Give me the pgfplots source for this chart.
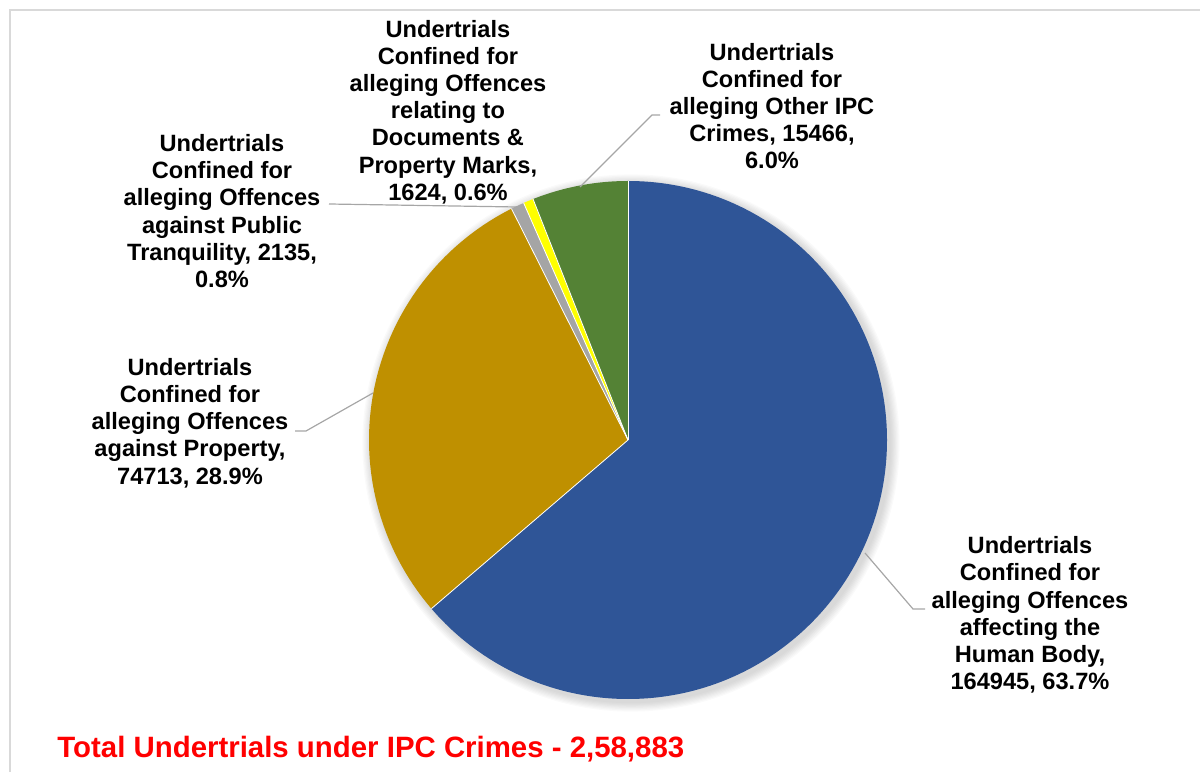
\documentclass[border=0pt]{standalone}
\usepackage{pgfplots}
\pgfplotsset{compat=1.18}
\usepackage{pgfplotstable}
\usepackage{fontspec}
\setmainfont{Liberation Sans}
\definecolor{cBlue}{HTML}{2F5597}
\definecolor{cGold}{HTML}{BF9000}
\definecolor{cGray}{HTML}{A5A5A5}
\definecolor{cYellow}{HTML}{FFFF00}
\definecolor{cGreen}{HTML}{548235}
\definecolor{cLead}{HTML}{A6A6A6}
\definecolor{cFrame}{HTML}{D9D9D9}

\pgfplotstableread{
value
164945
74713
2135
1624
15466
}\piedata
\pgfplotstablegetelem{0}{value}\of\piedata \edef\vA{\pgfplotsretval}
\pgfplotstablegetelem{1}{value}\of\piedata \edef\vB{\pgfplotsretval}
\pgfplotstablegetelem{2}{value}\of\piedata \edef\vC{\pgfplotsretval}
\pgfplotstablegetelem{3}{value}\of\piedata \edef\vD{\pgfplotsretval}
\pgfplotstablegetelem{4}{value}\of\piedata \edef\vE{\pgfplotsretval}
\edef\tot{\fpeval{\vA+\vB+\vC+\vD+\vE}}
\edef\tA{90}
\edef\tB{\fpeval{round(\tA-360*\vA/\tot,3)}}
\edef\tC{\fpeval{round(\tB-360*\vB/\tot,3)}}
\edef\tD{\fpeval{round(\tC-360*\vC/\tot,3)}}
\edef\tE{\fpeval{round(\tD-360*\vD/\tot,3)}}
\edef\tF{\fpeval{round(\tE-360*\vE/\tot,3)}}

\newcommand\lab{\bfseries\fontsize{11.8}{13.6}\selectfont}

\begin{document}
\begin{tikzpicture}
\begin{axis}[
  width=600pt, height=386pt, scale only axis,
  xmin=0, xmax=1200, ymin=0, ymax=772,
  hide axis, clip=false]
% frame
\draw[cFrame, line width=1pt] (axis cs:9.5,0) -- (axis cs:9.5,762) -- (axis cs:1200,762);
% soft shadow
\fill[black, opacity=0.018] (axis cs:631,329) circle[radius=134.3pt];
\fill[black, opacity=0.018] (axis cs:631,329) circle[radius=133.7pt];
\fill[black, opacity=0.018] (axis cs:631,329) circle[radius=133.1pt];
\fill[black, opacity=0.018] (axis cs:631,329) circle[radius=132.5pt];
\fill[black, opacity=0.018] (axis cs:631,329) circle[radius=131.9pt];
\fill[black, opacity=0.018] (axis cs:631,329) circle[radius=131.3pt];
\fill[black, opacity=0.018] (axis cs:631,329) circle[radius=130.7pt];
\fill[black, opacity=0.018] (axis cs:631,329) circle[radius=130.1pt];
% slices
\fill[cBlue]   (axis cs:628,332) -- ++(\tA:129.5pt) arc[start angle=\tA, end angle=\tB, radius=129.5pt] -- cycle;
\fill[cGold]   (axis cs:628,332) -- ++(\tB:129.5pt) arc[start angle=\tB, end angle=\tC, radius=129.5pt] -- cycle;
\fill[cGray]   (axis cs:628,332) -- ++(\tC:129.5pt) arc[start angle=\tC, end angle=\tD, radius=129.5pt] -- cycle;
\fill[cYellow] (axis cs:628,332) -- ++(\tD:129.5pt) arc[start angle=\tD, end angle=\tE, radius=129.5pt] -- cycle;
\fill[cGreen]  (axis cs:628,332) -- ++(\tE:129.5pt) arc[start angle=\tE, end angle=\tF, radius=129.5pt] -- cycle;
\draw[white, line width=0.4pt] (axis cs:628,332) -- ++(\tA:129.5pt);
\draw[white, line width=0.4pt] (axis cs:628,332) -- ++(\tB:129.5pt);
\draw[white, line width=0.4pt] (axis cs:628,332) -- ++(\tC:129.5pt);
\draw[white, line width=0.4pt] (axis cs:628,332) -- ++(\tD:129.5pt);
\draw[white, line width=0.4pt] (axis cs:628,332) -- ++(\tE:129.5pt);
% leader lines
\draw[cLead, line width=0.6pt] (axis cs:865,219) -- (axis cs:913,163) -- (axis cs:925,163);
\draw[cLead, line width=0.6pt] (axis cs:373,379) -- (axis cs:306,341) -- (axis cs:295,341);
\draw[cLead, line width=0.6pt] (axis cs:517,565) -- (axis cs:329,568);
\draw[cLead, line width=0.6pt] (axis cs:580,585) -- (axis cs:652,657) -- (axis cs:660,657);
% labels
\node[align=center, inner sep=0pt, font=\lab] at (axis cs:1030,157)
  {Undertrials\\Confined for\\alleging Offences\\affecting the\\Human Body,\\164945, 63.7\%};
\node[align=center, inner sep=0pt, font=\lab] at (axis cs:190,349)
  {Undertrials\\Confined for\\alleging Offences\\against Property,\\74713, 28.9\%};
\node[align=center, inner sep=0pt, font=\lab] at (axis cs:222,561)
  {Undertrials\\Confined for\\alleging Offences\\against Public\\Tranquility, 2135,\\0.8\%};
\node[align=center, inner sep=0pt, font=\lab] at (axis cs:448,660)
  {Undertrials\\Confined for\\alleging Offences\\relating to\\Documents \&\\Property Marks,\\1624, 0.6\%};
\node[align=center, inner sep=0pt, font=\lab] at (axis cs:772,666)
  {Undertrials\\Confined for\\alleging Other IPC\\Crimes, 15466,\\6.0\%};
% total
\node[anchor=base west, inner sep=0pt, text=red, font=\bfseries\fontsize{14.7}{17}\selectfont]
  at (axis cs:57,15) {Total Undertrials under IPC Crimes - 2,58,883};
\end{axis}
\pgfresetboundingbox
\path[use as bounding box] (current axis.south west) rectangle (current axis.north east);
\end{tikzpicture}
\end{document}
